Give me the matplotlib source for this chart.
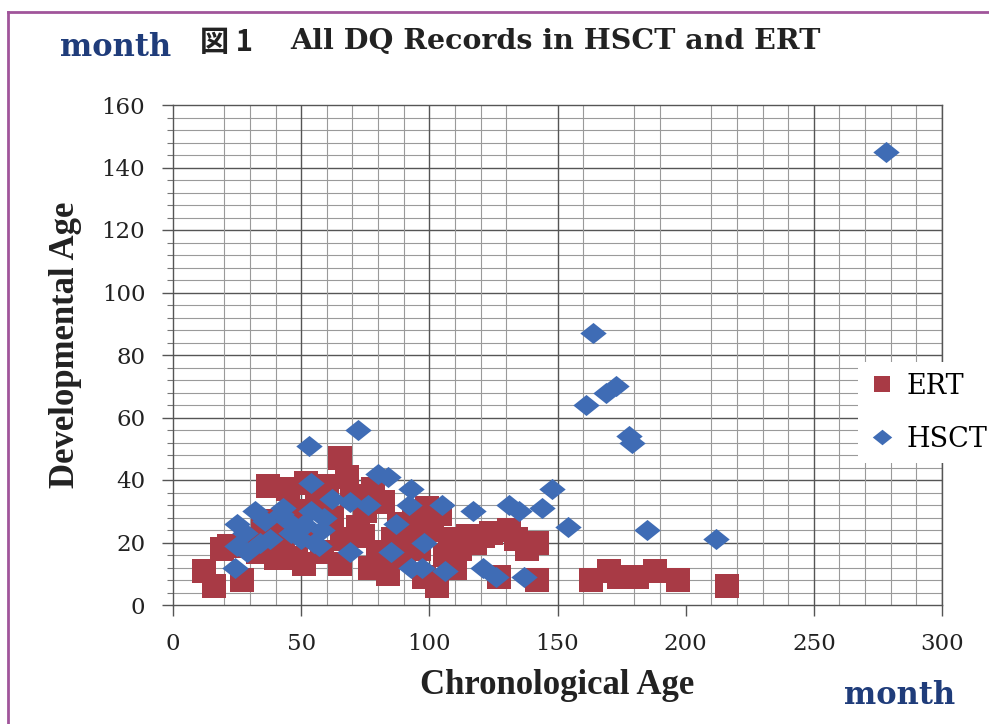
import matplotlib
matplotlib.use("Agg")
import matplotlib.pyplot as plt
from matplotlib.lines import Line2D

# HSCT records (chronological age, developmental age), months
hsct_x = [24, 25, 25, 28, 29, 32, 34, 36, 38, 42, 43, 45, 46, 49, 50, 51, 53, 54, 54, 55,
          57, 58, 59, 62, 69, 69, 72, 76, 80, 84, 85, 87, 92, 93, 93, 97, 98, 105, 106, 117,
          121, 126, 131, 135, 137, 144, 148, 154, 161, 164, 169, 173, 178, 179, 185, 212, 278]
hsct_y = [12, 19, 26, 23, 17, 30, 20, 27, 21, 29, 31, 27, 23, 24, 21, 26, 51, 30, 39, 20,
          19, 24, 28, 34, 33, 17, 56, 32, 42, 41, 17, 26, 32, 37, 12, 12, 20, 32, 11, 30,
          12, 9, 32, 30, 9, 31, 37, 25, 64, 87, 68, 70, 54, 52, 24, 21, 145]

# ERT records
ert_x = [12, 16, 19, 22, 27, 30, 33, 35, 37, 39, 40, 43, 45, 47, 48, 51, 52, 53, 56, 58,
         60, 62, 65, 65, 66, 68, 70, 72, 74, 75, 77, 78, 80, 82, 84, 86, 88, 90, 92, 94,
         96, 98, 99, 101, 103, 104, 106, 108, 110, 112, 115, 118, 121, 124, 127, 131, 134, 138,
         142, 142, 163, 170, 174, 181, 188, 197, 216]
ert_y = [11, 6, 18, 19, 8, 21, 17, 24, 38, 27, 15, 20, 37, 30, 15, 13, 39, 22, 34, 17,
         38, 28, 47, 13, 21, 41, 35, 25, 22, 30, 12, 37, 17, 33, 10, 21, 26, 15, 22, 28,
         18, 9, 31, 24, 6, 29, 16, 21, 12, 18, 22, 20, 22, 23, 9, 24, 21, 18,
         20, 8, 8, 11, 9, 9, 11, 8, 6]

x_ticks = [0, 50, 100, 150, 200, 250, 300]
y_ticks = [0, 20, 40, 60, 80, 100, 120, 140, 160]
# vertical grid lines as they appear on the printed chart
x_grid_minor = [20, 30, 40, 60, 70, 80, 90, 110, 120, 130, 160, 180, 190,
                210, 220, 230, 240, 260, 270, 280, 290]
x_grid_major = [50, 100, 150, 250, 300]

red = "#a83a45"
blue = "#3f6cb5"
navy = "#1f3c7a"
serif = "DejaVu Serif"

fig = plt.figure(figsize=(9.89, 7.24), dpi=100)
ax = fig.add_axes([173 / 989, 119 / 724, 769 / 989, 500 / 724])

for v in range(4, 160, 4):
    ax.axhline(v, color="#555555" if v % 20 == 0 else "#9a9a9a",
               lw=1.0 if v % 20 == 0 else 0.8, zorder=0)
for v in x_grid_minor:
    ax.axvline(v, color="#9a9a9a", lw=0.8, zorder=0)
for v in x_grid_major:
    ax.axvline(v, color="#555555", lw=1.0, zorder=0)

ax.scatter(ert_x, ert_y, marker="s", s=17 ** 2, color=red, linewidths=0, zorder=2)
diamond = [(-1.25, 0), (0, 1), (1.25, 0), (0, -1), (-1.25, 0)]
ax.scatter(hsct_x, hsct_y, marker=diamond, s=19 ** 2, color=blue, linewidths=0, zorder=3)

ax.set_xlim(0, 300)
ax.set_ylim(0, 160)
ax.set_xticks(x_ticks)
ax.set_yticks(y_ticks)
ax.set_yticks(range(0, 161, 4), minor=True)
ax.tick_params(axis="both", which="major", direction="out", length=8, width=1,
               color="#555555", pad=12, labelsize=16.5, labelcolor="#222222")
ax.tick_params(axis="y", which="minor", direction="out", length=4, width=0.8, color="#777777")
for lab in ax.get_xticklabels() + ax.get_yticklabels():
    lab.set_family(serif)
for s in ax.spines.values():
    s.set_color("#555555")
    s.set_linewidth(1.0)

# titles and labels
fig.text(200 / 989, 1 - 42 / 724, "図 1", family=["Noto Sans CJK JP", serif],
         fontsize=21, fontweight="bold", va="center", ha="left", color="#222222")
fig.text(290 / 989, 1 - 42 / 724, "All DQ Records in HSCT and ERT", family=serif,
         fontsize=20.5, fontweight="bold", va="center", ha="left", color="#222222")
fig.text(60 / 989, 1 - 47 / 724, "month", family=serif, fontsize=22, fontweight="bold",
         color=navy, va="center", ha="left")
fig.text(955 / 989, 1 - 695 / 724, "month", family=serif, fontsize=22, fontweight="bold",
         color=navy, va="center", ha="right")
fig.text(557 / 989, 1 - 685 / 724, "Chronological Age", family="Liberation Serif",
         fontsize=25, fontweight="bold", va="center", ha="center", color="#222222")
fig.text(66 / 989, 1 - 345 / 724, "Developmental Age", family="Liberation Serif",
         fontsize=25, fontweight="bold", va="center", ha="center", rotation=90,
         color="#222222")

handles = [Line2D([], [], ls="", marker="s", ms=12, color=red, mew=0),
           Line2D([], [], ls="", marker=diamond, ms=14, color=blue, mew=0)]
leg = fig.legend(handles, ["ERT", "HSCT"], loc="upper left",
                 bbox_to_anchor=(858 / 989, 1 - 362 / 724), frameon=True,
                 fancybox=False, borderaxespad=0, handlelength=1.0, handletextpad=0.4,
                 labelspacing=0.95, borderpad=0.4, prop={"family": serif, "size": 19.5})
leg.get_frame().set_facecolor("white")
leg.get_frame().set_edgecolor("none")
leg.get_frame().set_alpha(1)

# page border
border = "#a0559a"
fig.add_artist(Line2D([8 / 989, 8 / 989], [0, 1 - 12 / 724], color=border, lw=2,
                      transform=fig.transFigure))
fig.add_artist(Line2D([8 / 989, 1], [1 - 12 / 724, 1 - 12 / 724], color=border, lw=2,
                      transform=fig.transFigure))

fig.savefig("out.png", dpi=100)
